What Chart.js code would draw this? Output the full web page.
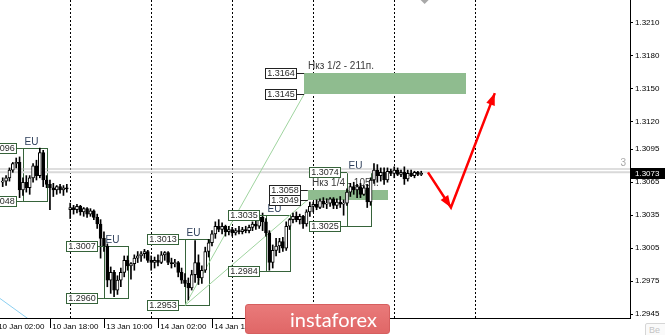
<!DOCTYPE html>
<html>
<head>
<meta charset="utf-8">
<title>GBPUSD H1</title>
<script src="https://cdn.jsdelivr.net/npm/chart.js@4.4.1/dist/chart.umd.min.js"></script>
<style>
  html, body { margin: 0; padding: 0; background: #fff; }
  #wrap { position: relative; width: 665px; height: 335px; overflow: hidden; }
  #banner {
    position: absolute; left: 245px; top: 304px; width: 145px; height: 30px;
    box-sizing: border-box; border: 1px solid #d65f5f; border-radius: 3px;
    background: linear-gradient(#e97a7a, #e06767);
    color: #fff; font: 20px Lato, "Open Sans", sans-serif; line-height: 28px; text-indent: 44px;
  }
  #btn {
    position: absolute; left: 645px; top: 323px; width: 26px; height: 16px;
    box-sizing: border-box; border: 1px solid #d6d6d6; border-radius: 2px; background: #fafafa;
    color: #c4c4c4; font: 9px "Liberation Sans", sans-serif; padding: 1px 0 0 3px;
  }
</style>
</head>
<body>
<div id="wrap">
  <canvas id="chart" width="665" height="335"></canvas>
  <div id="banner">instaforex</div>
  <div id="btn">Ве</div>
</div>
<script>
// H1 bars, hour offsets counted in trading hours from 13 Jan 00:00
const firstBarHour = -20;

const opens = [
  1.3065,1.3066,1.3069,1.3076,1.3082,1.3083,1.3058,1.3065,1.3060,1.3069,1.3080,1.3071,1.3092,1.3067,1.3063,1.3060,1.3058,1.3061,1.3058,1.3060,
  1.3040,1.3042,1.3040,1.3043,1.3038,1.3041,1.3036,1.3039,1.3033,1.3027,
  1.3014,1.3007,1.2976,1.2983,1.2967,1.2976,1.2983,1.2994,1.2989,1.2991,
  1.2996,1.2998,1.3000,1.3002,1.2994,1.2992,1.2994,1.2992,1.2999,1.3001,
  1.2992,1.2991,1.2992,1.2983,1.2976,1.2973,1.2969,1.2981,1.2992,1.2978,
  1.2985,1.3002,1.3010,1.3018,1.3025,1.3022,1.3025,1.3020,1.3022,1.3019,
  1.3021,1.3020,1.3022,1.3021,1.3024,1.3027,1.3025,1.3033,1.3029,1.3019,
  1.2992,1.3003,1.3007,1.3011,1.3005,1.3025,1.3031,1.3034,1.3031,1.3034,
  1.3027,1.3038,1.3043,1.3045,1.3042,1.3048,1.3045,1.3046,1.3050,1.3044,
  1.3047,1.3045,1.3046,1.3056,1.3061,1.3058,1.3061,1.3054,1.3060,1.3047,
  1.3067,1.3076,1.3071,1.3074,1.3067,1.3075,1.3073,1.3076,1.3072,1.3074,
  1.3068,1.3073,1.3071,1.3074,1.3072
];
const highs = [
  1.3069,1.3071,1.3078,1.3083,1.3087,1.3088,1.3069,1.3071,1.3071,1.3082,1.3085,1.3096,1.3094,1.3071,1.3067,1.3064,1.3062,1.3063,1.3062,1.3063,
  1.3046,1.3044,1.3045,1.3044,1.3042,1.3042,1.3041,1.3040,1.3036,1.3031,
  1.3020,1.3009,1.2988,1.2985,1.2980,1.2987,1.2998,1.2998,1.2992,1.2999,
  1.3002,1.3002,1.3004,1.3003,1.2998,1.2997,1.2999,1.3002,1.3002,1.3002,
  1.2996,1.2995,1.2993,1.2987,1.2982,1.2978,1.2985,1.3012,1.2999,1.2989,
  1.3006,1.3013,1.3021,1.3029,1.3031,1.3028,1.3026,1.3025,1.3024,1.3023,
  1.3025,1.3024,1.3025,1.3026,1.3029,1.3031,1.3036,1.3037,1.3032,1.3021,
  1.3008,1.3014,1.3014,1.3015,1.3029,1.3032,1.3037,1.3038,1.3036,1.3035,
  1.3040,1.3047,1.3047,1.3049,1.3050,1.3051,1.3050,1.3051,1.3051,1.3050,
  1.3052,1.3049,1.3059,1.3064,1.3065,1.3063,1.3064,1.3062,1.3063,1.3069,
  1.3082,1.3081,1.3078,1.3078,1.3078,1.3077,1.3079,1.3078,1.3076,1.3079,
  1.3076,1.3076,1.3075,1.3075,1.3075
];
const lows = [
  1.3061,1.3062,1.3066,1.3074,1.3078,1.3051,1.3053,1.3056,1.3054,1.3065,1.3067,1.3069,1.3061,1.3060,1.3040,1.3052,1.3054,1.3055,1.3053,1.3056,
  1.3032,1.3036,1.3037,1.3035,1.3034,1.3033,1.3034,1.3031,1.3023,1.2996,
  1.3002,1.2970,1.2964,1.2961,1.2963,1.2970,1.2979,1.2985,1.2977,1.2985,
  1.2992,1.2993,1.2996,1.2992,1.2985,1.2987,1.2989,1.2991,1.2994,1.2990,
  1.2987,1.2988,1.2979,1.2973,1.2970,1.2958,1.2967,1.2974,1.2972,1.2973,
  1.2983,1.2997,1.3007,1.3014,1.3020,1.3018,1.3016,1.3017,1.3016,1.3017,
  1.3018,1.3018,1.3019,1.3019,1.3021,1.3022,1.3023,1.3021,1.3016,1.2985,
  1.2987,1.2998,1.3001,1.3002,1.3003,1.3022,1.3028,1.3029,1.3027,1.3023,
  1.3025,1.3034,1.3038,1.3040,1.3041,1.3042,1.3041,1.3043,1.3041,1.3041,
  1.3042,1.3035,1.3044,1.3052,1.3054,1.3051,1.3051,1.3053,1.3042,1.3044,
  1.3064,1.3065,1.3066,1.3063,1.3065,1.3071,1.3069,1.3071,1.3070,1.3063,
  1.3066,1.3070,1.3069,1.3071,1.3071
];
const closes = [
  1.3066,1.3069,1.3076,1.3082,1.3083,1.3058,1.3065,1.3060,1.3069,1.3080,1.3071,1.3092,1.3067,1.3063,1.3060,1.3058,1.3061,1.3058,1.3060,1.3059,
  1.3042,1.3040,1.3043,1.3038,1.3041,1.3036,1.3039,1.3033,1.3027,1.3014,
  1.3007,1.2976,1.2983,1.2967,1.2976,1.2983,1.2994,1.2989,1.2991,1.2996,
  1.2998,1.3000,1.3002,1.2994,1.2992,1.2994,1.2992,1.2999,1.3001,1.2992,
  1.2991,1.2992,1.2983,1.2976,1.2973,1.2969,1.2981,1.2992,1.2978,1.2985,
  1.3002,1.3010,1.3018,1.3025,1.3022,1.3025,1.3020,1.3022,1.3019,1.3021,
  1.3020,1.3022,1.3021,1.3024,1.3027,1.3025,1.3033,1.3029,1.3019,1.2992,
  1.3003,1.3007,1.3011,1.3005,1.3025,1.3031,1.3034,1.3031,1.3034,1.3027,
  1.3038,1.3043,1.3045,1.3042,1.3048,1.3045,1.3046,1.3050,1.3044,1.3047,
  1.3045,1.3046,1.3056,1.3061,1.3058,1.3061,1.3054,1.3060,1.3047,1.3067,
  1.3076,1.3071,1.3074,1.3067,1.3075,1.3073,1.3076,1.3072,1.3074,1.3068,
  1.3073,1.3071,1.3074,1.3072,1.3073
];

// axes
const priceTicks = [1.3210, 1.3180, 1.3150, 1.3120, 1.3095, 1.3065, 1.3035, 1.3005, 1.2975, 1.2945];
const timeTickHours = [-22, -6, 10, 26, 42, 58, 74];
const timeTickLabels = ['10 Jan 02:00', '10 Jan 18:00', '13 Jan 10:00', '14 Jan 02:00', '14 Jan 18:00', '15 Jan 10:00', '16 Jan 02:00'];
const separatorHours = [0, 24, 48, 72, 96, 120];

// EU session boxes
const euFrom = [-14, 10, 34, 58, 82];
const euTo = [-7, 17, 41, 65, 89];
const euHigh = [1.3096, 1.3007, 1.3013, 1.3035, 1.3074];
const euLow = [1.3048, 1.2960, 1.2953, 1.2984, 1.3025];

// target zones
const zoneText = ['Нкз 1/2 - 211п.', 'Нкз 1/4 - 105п.'];
const zoneFrom = [69.3, 70.4];
const zoneTo = [117.3, 94.1];
const zoneHigh = [1.3164, 1.3058];
const zoneLow = [1.3145, 1.3049];

// fan lines from the 14 Jan box low
const fanEndHours = [69.3, 70.4];
const fanEndPrices = [1.3145, 1.3049];

// forecast arrows
const arrowHours = [106, 112.8, 125.8];
const arrowPrices = [1.3074, 1.3042, 1.3146];

// old trend line at the bottom left
const trendHours = [-22, -8];
const trendPrices = [1.2962, 1.2931];

// horizontal price lines
const levelPrices = [1.3077, 1.3074];
const levelLabel = '3';
const shiftHour = 105;

const xMin = -20.8, xMax = 165.85;
const yMin = 1.29416, yMax = 1.32306;

const fontFamily = '"Liberation Sans", Arial, sans-serif';
Chart.defaults.font.family = fontFamily;
Chart.defaults.font.size = 8;
Chart.defaults.color = '#000';

const barHours = opens.map((_, i) => firstBarHour + i);
const wickData = barHours.map((h, i) => ({ x: h, y: [lows[i], highs[i]] }));
const bodyData = barHours.map((h, i) => ({ x: h, y: [opens[i], closes[i]] }));
const bodyColors = opens.map((o, i) => closes[i] >= o ? '#ffffff' : '#000000');

function lineSet(points, color, width, order) {
  return {
    type: 'line', data: points, borderColor: color, borderWidth: width,
    pointRadius: 0, fill: false, tension: 0, order: order
  };
}

const fanSets = fanEndHours.map((h, i) => lineSet(
  [{ x: euFrom[2], y: euLow[2] }, { x: h, y: fanEndPrices[i] }], '#9fd49f', 1, 6));
const levelSets = levelPrices.map((p, i) => lineSet(
  [{ x: xMin, y: p }, { x: xMax, y: p }], i === 0 ? '#bdbdbd' : '#d9d9d9', i === 0 ? 1 : 2, 7));
const trendSet = lineSet(trendHours.map((h, i) => ({ x: h, y: trendPrices[i] })), '#8ccff0', 1, 6);
const arrowSet = lineSet(arrowHours.map((h, i) => ({ x: h, y: arrowPrices[i] })), '#ff0000', 2.5, 0);

function priceLabel(ctx, right, py, text, border) {
  const w = 31, h = 10;
  const l = Math.round(right - w) + 0.5, t = Math.round(py - h / 2) + 0.5;
  ctx.fillStyle = '#ffffff';
  ctx.fillRect(l, t, w, h);
  ctx.strokeStyle = border;
  ctx.lineWidth = 1;
  ctx.strokeRect(l, t, w, h);
  ctx.fillStyle = '#2a2a2a';
  ctx.font = '9px ' + fontFamily;
  ctx.textAlign = 'center';
  ctx.textBaseline = 'middle';
  ctx.fillText(text, l + w / 2, t + h / 2 + 0.5);
}

function arrowHead(ctx, x0, y0, x1, y1) {
  const ang = Math.atan2(y1 - y0, x1 - x0), len = 12, half = 4.5;
  ctx.beginPath();
  ctx.moveTo(x1, y1);
  ctx.lineTo(x1 - len * Math.cos(ang) + half * Math.sin(ang), y1 - len * Math.sin(ang) - half * Math.cos(ang));
  ctx.lineTo(x1 - len * Math.cos(ang) - half * Math.sin(ang), y1 - len * Math.sin(ang) + half * Math.cos(ang));
  ctx.closePath();
  ctx.fill();
}

const chartObjects = {
  id: 'chartObjects',
  beforeDatasetsDraw(chart) {
    const { ctx, chartArea: a, scales: { x, y } } = chart;
    ctx.save();
    ctx.beginPath();
    ctx.rect(a.left, a.top, a.width, a.height);
    ctx.clip();

    // period separators
    ctx.strokeStyle = '#000';
    ctx.lineWidth = 1;
    ctx.setLineDash([2, 2]);
    separatorHours.forEach(h => {
      const px = Math.round(x.getPixelForValue(h)) + 0.5;
      ctx.beginPath();
      ctx.moveTo(px, a.top);
      ctx.lineTo(px, a.bottom);
      ctx.stroke();
    });
    ctx.setLineDash([]);

    // target zones with their captions
    zoneHigh.forEach((hi, i) => {
      const x0 = Math.round(x.getPixelForValue(zoneFrom[i]));
      const x1 = Math.round(x.getPixelForValue(zoneTo[i]));
      const y0 = Math.round(y.getPixelForValue(hi));
      const y1 = Math.round(y.getPixelForValue(zoneLow[i]));
      ctx.fillStyle = '#8fbc8f';
      ctx.fillRect(x0, y0, x1 - x0, y1 - y0);
      ctx.fillStyle = '#3a3a3a';
      ctx.font = '10px ' + fontFamily;
      ctx.textAlign = 'left';
      ctx.textBaseline = 'alphabetic';
      ctx.fillText(zoneText[i], x0 + 4, y0 - 4);
    });

    // EU boxes
    ctx.strokeStyle = '#36633a';
    ctx.lineWidth = 1;
    euFrom.forEach((f, i) => {
      const x0 = Math.round(x.getPixelForValue(f)) + 0.5;
      const x1 = Math.round(x.getPixelForValue(euTo[i])) + 0.5;
      const y0 = Math.round(y.getPixelForValue(euHigh[i])) + 0.5;
      const y1 = Math.round(y.getPixelForValue(euLow[i])) + 0.5;
      ctx.strokeRect(x0, y0, x1 - x0, y1 - y0);
      ctx.fillStyle = '#2c3e5a';
      ctx.font = '10px ' + fontFamily;
      ctx.textAlign = 'left';
      ctx.textBaseline = 'alphabetic';
      ctx.fillText('EU', x0 + 1, y0 - 4);
    });
    ctx.restore();
  },
  afterDatasetsDraw(chart) {
    const { ctx, chartArea: a, scales: { x, y } } = chart;
    ctx.save();
    ctx.beginPath();
    ctx.rect(a.left, a.top, a.width, a.height);
    ctx.clip();

    // price labels of the EU boxes
    euFrom.forEach((f, i) => {
      const left = x.getPixelForValue(f);
      [euHigh[i], euLow[i]].forEach(p => {
        const py = Math.round(y.getPixelForValue(p)) + 0.5;
        ctx.strokeStyle = '#36633a';
        ctx.beginPath();
        ctx.moveTo(left - 7, py);
        ctx.lineTo(left, py);
        ctx.stroke();
        priceLabel(ctx, left - 7, y.getPixelForValue(p), p.toFixed(4), '#36633a');
      });
    });
    // price labels of the zones
    zoneHigh.forEach((hi, i) => {
      const left = x.getPixelForValue(zoneFrom[i]);
      [hi, zoneLow[i]].forEach(p => {
        const py = Math.round(y.getPixelForValue(p)) + 0.5;
        ctx.strokeStyle = '#222';
        ctx.beginPath();
        ctx.moveTo(left - 8, py);
        ctx.lineTo(left, py);
        ctx.stroke();
        priceLabel(ctx, left - 8, y.getPixelForValue(p), p.toFixed(4), '#222');
      });
    });

    // arrow heads
    ctx.fillStyle = '#ff0000';
    for (let i = 1; i < arrowHours.length; i++) {
      arrowHead(ctx,
        x.getPixelForValue(arrowHours[i - 1]), y.getPixelForValue(arrowPrices[i - 1]),
        x.getPixelForValue(arrowHours[i]), y.getPixelForValue(arrowPrices[i]));
    }

    // line caption and chart shift marker
    ctx.fillStyle = '#a8a8a8';
    ctx.font = '10px ' + fontFamily;
    ctx.textAlign = 'right';
    ctx.textBaseline = 'alphabetic';
    ctx.fillText(levelLabel, a.right - 4, y.getPixelForValue(levelPrices[0]) - 3);
    const sx = x.getPixelForValue(shiftHour);
    ctx.beginPath();
    ctx.moveTo(sx - 4, a.top);
    ctx.lineTo(sx + 4, a.top);
    ctx.lineTo(sx, a.top + 4);
    ctx.closePath();
    ctx.fill();
    ctx.restore();
  },
  afterDraw(chart) {
    const { ctx, chartArea: a, scales: { x, y } } = chart;
    ctx.save();
    // tick marks beside the time labels
    ctx.strokeStyle = '#000';
    ctx.lineWidth = 1;
    timeTickHours.forEach(h => {
      const px = Math.round(x.getPixelForValue(h)) + 0.5;
      ctx.beginPath();
      ctx.moveTo(px, a.bottom);
      ctx.lineTo(px, a.bottom + 10);
      ctx.stroke();
    });
    // current price tag
    const last = closes[closes.length - 1];
    const py = Math.round(y.getPixelForValue(last));
    ctx.fillStyle = '#000';
    ctx.fillRect(a.right + 1, py - 5, 34, 11);
    ctx.fillStyle = '#fff';
    ctx.font = '8px ' + fontFamily;
    ctx.textAlign = 'left';
    ctx.textBaseline = 'middle';
    ctx.fillText(last.toFixed(4), a.right + 5, py + 0.5);
    ctx.restore();
  }
};

new Chart(document.getElementById('chart'), {
  type: 'bar',
  data: {
    datasets: [
      { type: 'bar', data: wickData, backgroundColor: '#000', barThickness: 1, grouped: false, order: 2 },
      { type: 'bar', data: bodyData, backgroundColor: bodyColors, borderColor: '#000', borderWidth: 1,
        borderSkipped: false, barThickness: 3, grouped: false, order: 1 },
      ...levelSets,
      ...fanSets,
      trendSet,
      arrowSet
    ]
  },
  options: {
    responsive: false,
    animation: false,
    events: [],
    layout: { padding: 0 },
    plugins: { legend: { display: false }, tooltip: { enabled: false } },
    scales: {
      x: {
        type: 'linear', position: 'bottom', min: xMin, max: xMax, offset: false,
        afterBuildTicks: s => { s.ticks = timeTickHours.map(v => ({ value: v })); },
        afterFit: s => { s.height = 17; s.paddingLeft = 0; s.paddingRight = 0; },
        grid: { drawOnChartArea: false, drawTicks: false },
        border: { display: true, color: '#000', width: 1 },
        ticks: {
          autoSkip: false, maxRotation: 0, align: 'start', padding: 4,
          callback: (v, i) => ' ' + timeTickLabels[i]
        }
      },
      y: {
        type: 'linear', position: 'right', min: yMin, max: yMax,
        afterBuildTicks: s => { s.ticks = priceTicks.map(v => ({ value: v })); },
        afterFit: s => { s.width = 35; s.paddingTop = 0; s.paddingBottom = 0; },
        grid: { drawOnChartArea: false, drawTicks: true, tickLength: 3, tickColor: '#000' },
        border: { display: true, color: '#000', width: 1 },
        ticks: { autoSkip: false, padding: 2, callback: v => v.toFixed(4) }
      }
    }
  },
  plugins: [chartObjects]
});
</script>
</body>
</html>
